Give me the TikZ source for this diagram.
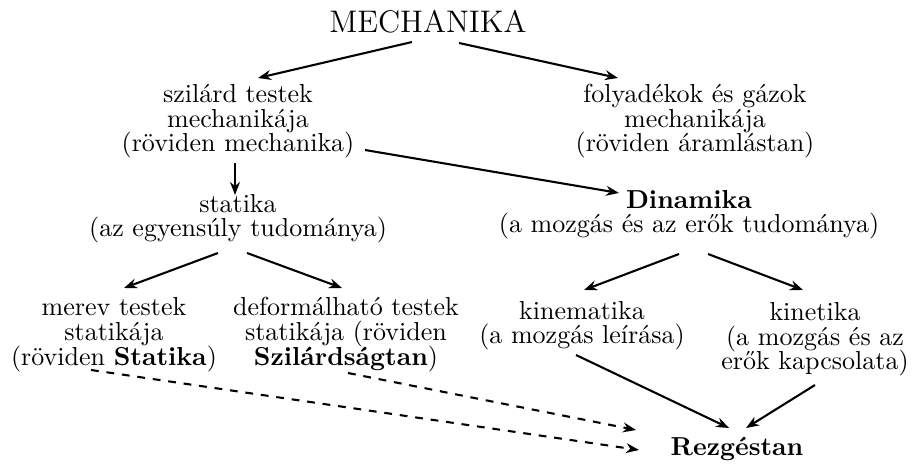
\documentclass[tikz,border=0pt]{standalone}
\usetikzlibrary{arrows.meta,calc}
\newcommand\mytxtfont{\fontsize{10}{9.6}\selectfont\lineskiplimit=-20pt\relax}
\tikzset{
  txt/.style={align=center, inner sep=0pt, anchor=base, font=\mytxtfont},
  ttl/.style={inner sep=0pt, anchor=base, font=\fontsize{12}{14}\selectfont},
  conn/.style={thick, -{Stealth[length=5pt,width=3.8pt]}},
  dconn/.style={conn, dashed},
}
\begin{document}
\begin{tikzpicture}[x=0.3846pt,y=-0.3846pt]
\useasboundingbox (0,0) rectangle (912,466);
\node[ttl] (mech) at (428,33) {MECHANIKA};
\node[txt] (szil) at (238,152) {szilárd testek\\mechanikája\\(röviden mechanika)};
\node[txt] (foly) at (695,152) {folyadékok és gázok\\mechanikája\\(röviden áramlástan)};
\node[txt] (stat) at (238,237) {statika\\(az egyensúly tudománya)};
\node[txt] (din) at (689,233) {\textbf{Dinamika}\\(a mozgás és az erők tudománya)};
\node[txt] (merev) at (114,365) {merev testek\\statikája\\(röviden \textbf{Statika})};
\node[txt] (deform) at (346,365) {deformálható testek\\statikája (röviden\\\textbf{Szilárdságtan})};
\node[txt] (kinem) at (582,344) {kinematika\\(a mozgás leírása)};
\node[txt] (kinet) at (815,370) {kinetika\\(a mozgás és az\\erők kapcsolata)};
\node[txt] (rezg) at (737,455) {\textbf{Rezgéstan}};

\draw[conn] ($(mech.base)+(-16,9)$) -- ($(szil.base)+(20,-74)$);
\draw[conn] ($(mech.base)+(31,10)$) -- ($(foly.base)+(-77,-74)$);
\draw[conn] ($(szil.base)+(-3,11)$) -- ($(stat.base)+(-3,-42)$);
\draw[conn] ($(szil.base)+(127,-2)$) -- ($(din.base)+(-70,-40)$);
\draw[conn] ($(stat.base)+(-20,16)$) -- ($(merev.base)+(10,-77)$);
\draw[conn] ($(stat.base)+(9,16)$) -- ($(deform.base)+(-4,-77)$);
\draw[conn] ($(din.base)+(-10,21)$) -- ($(kinem.base)+(2,-54)$);
\draw[conn] ($(din.base)+(19,21)$) -- ($(kinet.base)+(-12,-80)$);
\draw[conn] ($(kinem.base)+(-6,11)$) -- ($(rezg.base)+(-8,-27)$);
\draw[conn] ($(kinet.base)+(0,15)$) -- ($(rezg.base)+(9,-27)$);
\draw[dconn] ($(merev.base)+(-23,5)$) -- ($(rezg.base)+(-98,-5)$);
\draw[dconn] ($(deform.base)+(2,8)$) -- ($(rezg.base)+(-101,-25)$);
\end{tikzpicture}
\end{document}
